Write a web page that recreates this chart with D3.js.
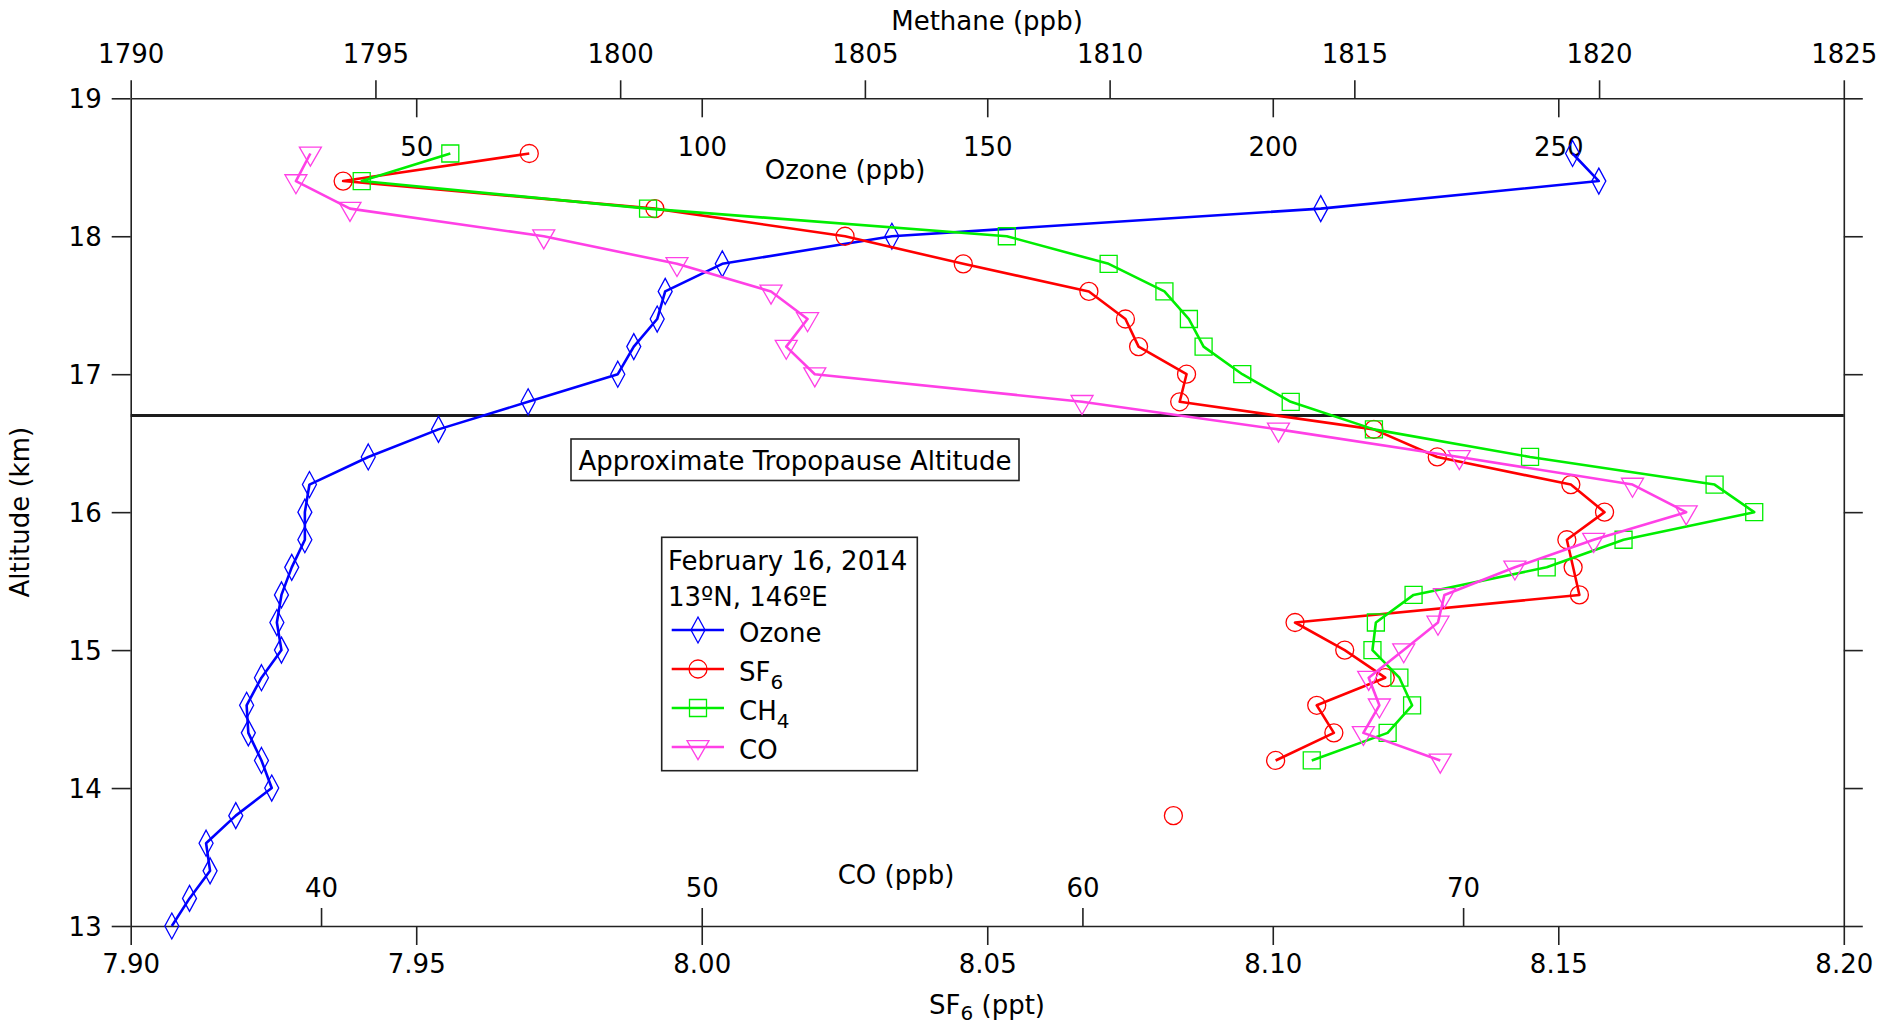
<!DOCTYPE html>
<html>
<head>
<meta charset="utf-8">
<script src="https://cdn.jsdelivr.net/npm/d3@7"></script>
<style>
  body { margin: 0; background: #fff; }
  svg { display: block; font-family: "DejaVu Sans", Verdana, sans-serif; }
</style>
</head>
<body>
<svg id="chart" width="1893" height="1028"></svg>
<script>
// Balloon profile, 13–18.6 km, 0.2 km steps
const altitudes = [13.0, 13.2, 13.4, 13.6, 13.8, 14.0, 14.2, 14.4, 14.6, 14.8,
                   15.0, 15.2, 15.4, 15.6, 15.8, 16.0, 16.2, 16.4, 16.6, 16.8,
                   17.0, 17.2, 17.4, 17.6, 17.8, 18.0, 18.2, 18.4, 18.6];

// Ozone (ppb)
const ozone = [7.2, 10.3, 13.9, 13.2, 18.4, 24.7, 22.9, 20.6, 20.3, 22.9,
               26.4, 25.6, 26.4, 28.2, 30.5, 30.5, 31.3, 41.6, 53.9, 69.6,
               85.3, 88.1, 92.2, 93.6, 103.6, 133.3, 208.4, 257.1, 252.5];

// SF6 (ppt); null = no sample
const sf6 = [null, null, null, null, 8.0826, null, 8.1005, 8.1107, 8.1077, 8.1197,
             8.1126, 8.1039, 8.1537, 8.1526, 8.1515, 8.1581, 8.1522, 8.1288, 8.1177, 8.0837,
             8.0849, 8.0765, 8.0742, 8.0678, 8.0458, 8.0251, 7.9918, 7.9372, 7.9698];

// Methane (ppb)
const ch4 = [null, null, null, null, null, null, 1814.13, 1815.68, 1816.18, 1815.92,
             1815.37, 1815.44, 1816.21, 1818.93, 1820.50, 1823.17, 1822.36, 1818.59, 1815.40, 1813.70,
             1812.71, 1811.92, 1811.62, 1811.12, 1809.98, 1807.90, 1800.57, 1794.72, 1796.53];

// CO (ppb)
const co = [null, null, null, null, null, null, 69.40, 67.38, 67.80, 67.52,
            68.44, 69.34, 69.51, 71.36, 73.43, 75.86, 74.45, 69.90, 65.15, 59.99,
            52.97, 52.22, 52.78, 51.82, 49.35, 45.85, 40.76, 39.34, 39.72];

// Axis ticks
const altitudeTicks = [13, 14, 15, 16, 17, 18, 19];
const sf6Ticks = [7.90, 7.95, 8.00, 8.05, 8.10, 8.15, 8.20];
const methaneTicks = [1790, 1795, 1800, 1805, 1810, 1815, 1820, 1825];
const ozoneTicks = [50, 100, 150, 200, 250];
const coTicks = [40, 50, 60, 70];

const tropopauseAltitude = 16.7;
const legendTitle = ["February 16, 2014", "13ºN, 146ºE"];

// ---- layout ----
const L = 130.7, R = 1843.8, T = 98.3, B = 926;
const FONT = 26;
const AXIS_COLOR = "#222";

const svg = d3.select("#chart");
svg.append("rect").attr("width", 1893).attr("height", 1028).attr("fill", "#fff");

const y = d3.scaleLinear().domain([13, 19]).range([B, T]);
const xSF6 = d3.scaleLinear().domain([7.90, 8.20]).range([L, R]);
const xCH4 = d3.scaleLinear().domain([1790, 1825]).range([L, R]);
const xO3 = d3.scaleLinear().domain([0, 300]).range([L, R]);
const xCO = d3.scaleLinear().domain([35, 80]).range([L, R]);

function styleAxis(g) {
  g.attr("font-family", null).attr("font-size", null);
  g.selectAll("path.domain").attr("stroke", AXIS_COLOR).attr("stroke-width", 1.6);
  g.selectAll(".tick line").attr("stroke", AXIS_COLOR).attr("stroke-width", 1.6);
  g.selectAll(".tick text").attr("fill", "#000").attr("font-size", FONT);
}

// Bottom: SF6
const gBottom = svg.append("g").attr("transform", `translate(0,${B})`)
  .call(d3.axisBottom(xSF6).tickValues(sf6Ticks).tickFormat(d3.format(".2f"))
    .tickSize(19).tickSizeOuter(0));
styleAxis(gBottom);
gBottom.selectAll(".tick text").attr("y", 47).attr("dy", null);

// Left: altitude
const gLeft = svg.append("g").attr("transform", `translate(${L},0)`)
  .call(d3.axisLeft(y).tickValues(altitudeTicks).tickFormat(d3.format("d"))
    .tickSize(19).tickSizeOuter(0));
styleAxis(gLeft);
gLeft.selectAll(".tick text").attr("x", -29).attr("dy", "0.365em");

// Right: altitude ticks only
const gRight = svg.append("g").attr("transform", `translate(${R},0)`)
  .call(d3.axisRight(y).tickValues(altitudeTicks).tickFormat("")
    .tickSize(19).tickSizeOuter(0));
styleAxis(gRight);

// Top: methane
const gTop = svg.append("g").attr("transform", `translate(0,${T})`)
  .call(d3.axisTop(xCH4).tickValues(methaneTicks).tickFormat(d3.format("d"))
    .tickSize(18).tickSizeOuter(0));
styleAxis(gTop);
gTop.selectAll(".tick text").attr("y", -35).attr("dy", null);

// Inner top: ozone (ticks point into the plot)
const gO3 = svg.append("g").attr("transform", `translate(0,${T})`)
  .call(d3.axisBottom(xO3).tickValues(ozoneTicks).tickFormat(d3.format("d"))
    .tickSize(19).tickSizeOuter(0));
styleAxis(gO3);
gO3.select("path.domain").remove();
gO3.selectAll(".tick text").attr("y", 58).attr("dy", null);

// Inner bottom: CO (ticks point into the plot)
const gCO = svg.append("g").attr("transform", `translate(0,${B})`)
  .call(d3.axisTop(xCO).tickValues(coTicks).tickFormat(d3.format("d"))
    .tickSize(18).tickSizeOuter(0));
styleAxis(gCO);
gCO.select("path.domain").remove();
gCO.selectAll(".tick text").attr("y", -29).attr("dy", null);

// Axis titles
const titles = svg.append("g").attr("font-size", FONT).attr("fill", "#000");
titles.append("text").attr("x", 987).attr("y", 30).attr("text-anchor", "middle").text("Methane (ppb)");
titles.append("text").attr("x", 845).attr("y", 179).attr("text-anchor", "middle").text("Ozone (ppb)");
titles.append("text").attr("x", 896).attr("y", 884).attr("text-anchor", "middle").text("CO (ppb)");
const sfTitle = titles.append("text").attr("x", 987).attr("y", 1014).attr("text-anchor", "middle");
sfTitle.append("tspan").text("SF");
sfTitle.append("tspan").attr("font-size", 20).attr("dy", 6).text("6");
sfTitle.append("tspan").attr("dy", -6).text(" (ppt)");
titles.append("text").attr("transform", `translate(29,${(T + B) / 2}) rotate(-90)`)
  .attr("text-anchor", "middle").text("Altitude (km)");

// Tropopause
svg.append("line")
  .attr("x1", L).attr("x2", R)
  .attr("y1", y(tropopauseAltitude)).attr("y2", y(tropopauseAltitude))
  .attr("stroke", "#1c1c1c").attr("stroke-width", 3);

const tropoBox = svg.append("g");
tropoBox.append("rect").attr("x", 571).attr("y", 439).attr("width", 448).attr("height", 41.5)
  .attr("fill", "#fff").attr("stroke", AXIS_COLOR).attr("stroke-width", 1.6);
tropoBox.append("text").attr("x", 795).attr("y", 469.5).attr("text-anchor", "middle")
  .attr("font-size", FONT).text("Approximate Tropopause Altitude");

// ---- marker shapes ----
const shapes = {
  diamond: "M0,-13L7,0L0,13L-7,0Z",
  circle: d3.symbol().type(d3.symbolCircle).size(Math.PI * 9 * 9)(),
  square: "M-8.5,-8.5H8.5V8.5H-8.5Z",
  triangleDown: "M-11,-6.3H11L0,12.7Z"
};

const series = [
  { name: "Ozone", values: ozone, x: xO3, color: "#0000ff", shape: "diamond" },
  { name: "SF", sub: "6", values: sf6, x: xSF6, color: "#ff0000", shape: "circle" },
  { name: "CH", sub: "4", values: ch4, x: xCH4, color: "#00ee00", shape: "square" },
  { name: "CO", values: co, x: xCO, color: "#ff40e6", shape: "triangleDown" }
];

const plot = svg.append("g");
series.forEach(s => {
  const pts = altitudes.map((a, i) => ({ alt: a, v: s.values[i] }));
  const line = d3.line().defined(d => d.v != null).x(d => s.x(d.v)).y(d => y(d.alt));
  const g = plot.append("g");
  g.append("path").attr("d", line(pts)).attr("fill", "none")
    .attr("stroke", s.color).attr("stroke-width", 2.6).attr("stroke-linejoin", "round");
  g.selectAll("path.mk").data(pts.filter(d => d.v != null)).join("path")
    .attr("class", "mk")
    .attr("d", shapes[s.shape])
    .attr("transform", d => `translate(${s.x(d.v)},${y(d.alt)})`)
    .attr("fill", "none").attr("stroke", s.color).attr("stroke-width", 1.3);
});

// ---- legend ----
const lg = svg.append("g");
lg.append("rect").attr("x", 661.7).attr("y", 537.3).attr("width", 255.6).attr("height", 233.4)
  .attr("fill", "#fff").attr("stroke", AXIS_COLOR).attr("stroke-width", 1.6);
lg.selectAll("text.title").data(legendTitle).join("text").attr("class", "title")
  .attr("x", 668).attr("y", (d, i) => 570 + i * 36).attr("font-size", FONT).text(d => d);
series.forEach((s, i) => {
  const ry = 630 + i * 39;
  lg.append("line").attr("x1", 671.7).attr("x2", 724).attr("y1", ry).attr("y2", ry)
    .attr("stroke", s.color).attr("stroke-width", 2.6);
  lg.append("path").attr("d", shapes[s.shape]).attr("transform", `translate(698,${ry})`)
    .attr("fill", "none").attr("stroke", s.color).attr("stroke-width", 1.3);
  const t = lg.append("text").attr("x", 739).attr("y", ry + 12).attr("font-size", FONT);
  t.append("tspan").text(s.name);
  if (s.sub) t.append("tspan").attr("font-size", 20).attr("dy", 8).text(s.sub);
});
</script>
</body>
</html>
